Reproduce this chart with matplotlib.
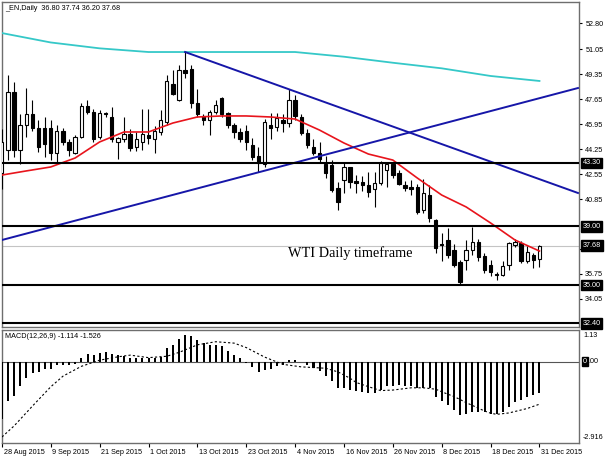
import matplotlib
matplotlib.use('Agg')
import matplotlib.pyplot as plt
import matplotlib.transforms as mtransforms
import numpy as np
import pandas as pd

# daily bars, 28 Aug 2015 .. 31 Dec 2015 (no 25 Dec)
dates = [d for d in pd.bdate_range('2015-08-28', '2015-12-31') if d != pd.Timestamp('2015-12-25')]

opens = [42.6, 44.2, 48.1, 44.2, 45.9, 46.6, 45.7, 45.7, 45.7, 44.0,
         45.5, 44.7, 44.0, 45.1, 47.2, 46.8, 45.1, 46.7, 46.4, 44.7,
         44.9, 45.3, 44.4, 44.7, 45.2, 44.9, 45.4, 46.1, 48.7, 47.6,
         49.6, 49.7, 47.4, 46.5, 46.2, 46.8, 47.7, 46.7, 45.9, 45.4,
         45.5, 44.5, 43.8, 43.2, 45.9, 45.75, 46.2, 46.0, 47.6, 46.4,
         45.35, 44.4, 43.95, 43.2, 43.15, 41.6, 42.15, 43.0, 42.1, 42.0,
         41.8, 41.55, 41.95, 42.8, 43.2, 42.6, 41.8, 41.7, 41.7, 40.1,
         41.1, 39.4, 37.8, 38.05, 37.4, 36.55, 36.7, 37.4, 37.9, 36.95,
         36.35, 35.75, 35.7, 36.35, 37.75, 37.85, 36.6, 37.05, 36.80]
highs = [45.6, 49.3, 48.8, 46.6, 48.4, 47.6, 46.2, 46.4, 46.2, 45.9,
         45.7, 44.9, 45.2, 47.4, 47.6, 47.0, 46.9, 46.8, 47.1, 45.1,
         46.4, 45.6, 45.4, 47.0, 47.0, 45.8, 46.9, 49.3, 49.6, 50.0,
         50.85, 50.0, 48.3, 46.6, 46.9, 47.6, 47.8, 46.8, 46.0, 45.7,
         45.9, 45.0, 44.4, 46.3, 46.7, 46.7, 46.6, 48.3, 47.9, 46.6,
         45.6, 44.9, 44.7, 43.8, 43.5, 42.0, 43.3, 43.0, 42.5, 42.4,
         42.7, 42.7, 43.45, 43.3, 43.4, 42.8, 42.1, 42.15, 41.9, 42.2,
         41.8, 39.5, 38.55, 38.9, 37.8, 36.7, 38.05, 38.95, 38.1, 37.2,
         36.7, 35.9, 36.6, 37.95, 38.15, 38.0, 37.65, 37.2, 37.74]
lows = [41.5, 43.5, 43.7, 43.2, 45.1, 45.5, 44.05, 43.7, 43.5, 43.2,
        44.5, 43.8, 43.9, 45.0, 46.6, 44.7, 44.9, 46.4, 44.7, 43.6,
        44.7, 44.1, 44.1, 44.2, 44.6, 44.0, 45.2, 45.9, 47.9, 47.5,
        49.1, 47.05, 46.4, 45.9, 45.2, 46.6, 46.4, 45.7, 45.0, 44.7,
        44.2, 43.5, 42.7, 43.0, 44.9, 45.5, 45.4, 45.75, 46.2, 45.2,
        44.3, 43.85, 43.4, 42.3, 41.3, 40.1, 41.25, 41.6, 41.25, 41.4,
        41.0, 40.3, 41.8, 41.7, 42.3, 41.8, 41.4, 41.1, 39.8, 39.9,
        39.3, 37.2, 36.6, 36.85, 36.2, 35.05, 36.0, 37.05, 36.6, 35.8,
        35.6, 35.35, 35.6, 36.0, 37.6, 36.5, 36.5, 36.15, 36.20]
closes = [44.7, 48.1, 44.2, 45.9, 46.6, 45.7, 44.4, 44.6, 44.0, 45.5,
          44.7, 44.2, 45.1, 47.2, 46.8, 44.9, 46.7, 46.6, 44.9, 45.0,
          45.3, 44.3, 44.9, 45.3, 45.0, 45.5, 46.2, 48.9, 48.0, 49.6,
          49.4, 47.4, 46.6, 46.2, 46.8, 47.25, 46.6, 45.9, 45.4, 44.9,
          44.7, 43.7, 43.3, 46.1, 45.7, 46.35, 46.0, 47.6, 46.5, 45.35,
          44.5, 44.0, 43.6, 42.6, 41.45, 40.65, 43.0, 42.0, 41.95, 41.8,
          41.3, 41.95, 43.3, 43.2, 42.5, 41.9, 41.6, 41.5, 39.95, 41.25,
          39.55, 37.5, 37.7, 37.05, 36.35, 35.2, 37.4, 37.9, 36.9, 36.0,
          35.9, 35.65, 36.3, 37.85, 37.95, 36.6, 37.25, 36.7, 37.68]

# red moving average, read every 4 bars
ma_idx = list(range(0, 89, 4))
ma_val = [42.48, 42.76, 43.03, 43.64, 44.73, 45.41, 45.41, 46.02, 46.43, 46.5,
          46.5, 46.43, 46.29, 45.54, 44.66, 43.91, 43.5, 42.28, 41.12, 40.31,
          39.22, 38.06, 37.31]
# cyan long moving average, read every 8 bars
ma2_idx = list(range(0, 89, 8))
ma2_val = [52.14, 51.5, 51.1, 50.85, 50.85, 50.85, 50.85, 50.53, 50.12, 49.74, 49.22, 48.88]

# trend lines (bar, price)
down_line = [(30, 50.85), (94.3, 41.26)]
up_line = [(0, 38.06), (94.3, 48.40)]
levels = [43.30, 39.00, 35.00, 32.40]
last_price = 37.68
price_ticks = [52.80, 51.05, 49.35, 47.65, 45.95, 44.25, 42.55, 40.85, 37.45, 35.75, 34.05]

macd_hist = [-2.06, -1.43, -1.23, -0.89, -0.60, -0.42, -0.38, -0.25, -0.25, -0.13,
             -0.13, -0.13, -0.09, 0.14, 0.26, 0.24, 0.32, 0.36, 0.26, 0.24,
             0.21, 0.14, 0.12, 0.11, 0.11, 0.12, 0.17, 0.47, 0.59, 0.79,
             0.95, 0.92, 0.78, 0.68, 0.59, 0.59, 0.55, 0.38, 0.24, 0.14,
             -0.04, -0.21, -0.39, -0.29, -0.25, -0.15, -0.11, 0.04, 0.07, -0.02,
             -0.13, -0.24, -0.33, -0.51, -0.71, -0.96, -0.96, -1.01, -1.04, -1.08,
             -1.11, -1.11, -1.03, -0.89, -0.87, -0.85, -0.87, -0.87, -0.96, -0.96,
             -0.93, -1.26, -1.40, -1.56, -1.72, -1.92, -1.88, -1.79, -1.82, -1.82,
             -1.88, -1.86, -1.82, -1.62, -1.44, -1.38, -1.26, -1.19, -1.114]
sig_idx = [0, 2, 5, 8, 10, 13, 16, 19, 21, 24, 27, 29, 32, 35, 38, 40, 43, 46, 49,
           53, 55, 57, 58, 60, 62, 64, 67, 69, 71, 73, 74, 76, 77, 79, 80, 81, 83, 86, 88]
sig_val = [-2.70, -2.30, -1.59, -0.90, -0.52, -0.17, 0.05, 0.17, 0.23, 0.14, 0.19, 0.33,
           0.60, 0.71, 0.66, 0.50, 0.16, -0.10, -0.19, -0.24, -0.37, -0.60, -0.75, -0.90,
           -1.04, -1.02, -0.94, -0.94, -0.99, -1.17, -1.25, -1.47, -1.57, -1.77, -1.85,
           -1.89, -1.84, -1.68, -1.526]

W, H = 610, 457
plt.rcParams['font.family'] = ['Liberation Sans', 'DejaVu Sans']
fig = plt.figure(figsize=(W / 100, H / 100), dpi=100)
fig.patch.set_facecolor('white')

def px_axes(x0, y0, x1, y1):
    return fig.add_axes([x0 / W, 1 - y1 / H, (x1 - x0) / W, (y1 - y0) / H])

ax = px_axes(2, 2, 579, 327)
ax2 = px_axes(2, 330, 579, 443)
frame = '#6e6e6e'
fs = 5.2
xlim = (0.03, 94.47)

n = len(closes)
x = np.arange(n)
o = np.array(opens); c = np.array(closes)
# candles
ax.vlines(x, lows, highs, color='black', lw=0.8, zorder=3)
bottoms = np.minimum(o, c)
heights = np.maximum(np.abs(c - o), 0.04)
cols = ['white' if cc >= oo else 'black' for oo, cc in zip(o, c)]
ax.bar(x, heights, bottom=bottoms, width=0.55, color=cols, edgecolor='black', lw=0.8, zorder=4)

ax.plot(ma_idx, ma_val, color='#e8141c', lw=1.2, zorder=5)
ax.plot(ma2_idx, ma2_val, color='#35c8c8', lw=1.3, zorder=5)
for ln in (down_line, up_line):
    ax.plot([p[0] for p in ln], [p[1] for p in ln], color='#1616a8', lw=1.4, zorder=5)
ax.axhline(last_price, color='#c4c4c4', lw=0.8, zorder=1)
for lv in levels:
    ax.axhline(lv, color='black', lw=1.5, zorder=6)

trans = mtransforms.blended_transform_factory(ax.transAxes, ax.transData)
ax.text((288 - 2) / 577, 36.91, 'WTI Daily timeframe', fontsize=10.3,
        family=['Liberation Serif', 'DejaVu Serif'], transform=trans,
        va='baseline', ha='left', zorder=7)
ax.text(3 / 577, 1 - 6 / 325, '_EN,Daily  36.80 37.74 36.20 37.68', fontsize=fs,
        transform=ax.transAxes, va='center', ha='left')

ax.set_xlim(*xlim)
ax.set_ylim(43.30 - 164 / 14.7, 43.30 + 161 / 14.7)
ax.yaxis.tick_right()
ax.set_yticks(price_ticks)
ax.set_yticklabels(['%.2f' % t for t in price_ticks], fontsize=fs)
ax.tick_params(axis='y', length=2.5, width=0.8, pad=2, colors='black', direction='out')
ax.set_xticks([])

for lv in levels + [last_price]:
    ax.text(1 + 3.5 / 577, lv, '%.2f' % lv, transform=trans, fontsize=fs, color='white',
            va='center', ha='left', clip_on=False, zorder=10,
            bbox=dict(facecolor='black', edgecolor='black', pad=1.3))

# MACD panel
ax2.bar(x, macd_hist, width=0.33, color='black', zorder=3)
ax2.plot(sig_idx, sig_val, color='black', lw=0.8, ls=(0, (2, 2)), zorder=4)
ax2.axhline(0, color='#555555', lw=0.8, zorder=2)
ax2.set_xlim(*xlim)
ax2.set_ylim(-2.916, 1.13)
ax2.set_yticks([])
ax2.text(3 / 577, 1 - 6 / 113, 'MACD(12,26,9) -1.114 -1.526', fontsize=fs,
         transform=ax2.transAxes, va='center', ha='left')
t2 = mtransforms.blended_transform_factory(ax2.transAxes, ax2.transData)
ax2.text(1 + 4 / 577, 1.13 - 0.2, '1.13', transform=t2, fontsize=fs, va='center', ha='left', clip_on=False)
ax2.text(1 + 4 / 577, -2.916 + 0.2, '-2.916', transform=t2, fontsize=fs, va='center', ha='left', clip_on=False)
ax2.text(1 + 4 / 577, 0, '0', transform=t2, fontsize=fs, color='white', va='center', ha='left', clip_on=False,
         bbox=dict(facecolor='black', edgecolor='black', pad=0.6))
ax2.text(1 + 9 / 577, 0, '.00', transform=t2, fontsize=fs, va='center', ha='left', clip_on=False)

tick_pos = list(range(0, n, 8))
ax2.set_xticks(tick_pos)
ax2.set_xticklabels([f'{dates[i].day} {dates[i]:%b %Y}' for i in tick_pos], fontsize=fs)
ax2.tick_params(axis='x', length=3, width=0.8, pad=1.5, direction='out')
off = mtransforms.ScaledTranslation(1.5 / 100, 0, fig.dpi_scale_trans)
for lab in ax2.get_xticklabels():
    lab.set_horizontalalignment('left')
    lab.set_transform(lab.get_transform() + off)

for a in (ax, ax2):
    for s in a.spines.values():
        s.set_color(frame)
        s.set_linewidth(1.0)

fig.savefig('out.png', dpi=100, facecolor='white')
